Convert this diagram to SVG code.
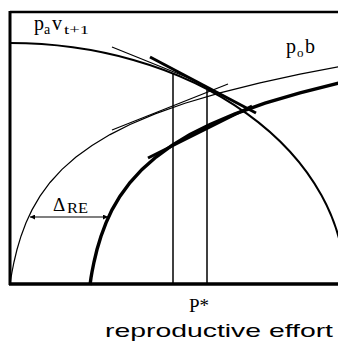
<svg xmlns="http://www.w3.org/2000/svg" width="338" height="347" viewBox="0 0 338 347">
<defs>
<style>
.ax{stroke:#000;stroke-width:3;fill:none}
.thin{stroke:#000;stroke-width:1.2;fill:none}
.med{stroke:#000;stroke-width:2;fill:none}
.thick{stroke:#000;stroke-width:3.4;fill:none}
.vl{stroke:#000;stroke-width:1.5}
.s{font-family:"Liberation Serif","Times New Roman",serif;fill:#000}
.ss{font-family:"Liberation Sans",Arial,sans-serif;fill:#000}
</style>
<marker id="ah" viewBox="0 0 10 10" refX="10" refY="5" markerWidth="8" markerHeight="5" markerUnits="userSpaceOnUse" orient="auto-start-reverse">
<path d="M0,0 L10,5 L0,10 z" fill="#000"/>
</marker>
</defs>
<rect width="338" height="347" fill="#fff"/>
<g id="axes">
<line class="ax" x1="10" y1="12" x2="338" y2="12" style="stroke-width:2.5"/>
<line class="ax" x1="10" y1="11" x2="10" y2="285"/>
<line class="ax" x1="9" y1="284" x2="338" y2="284" style="stroke-width:3.5"/>
</g>
<g id="curve-pav">
<path class="med" d="M10,43 A335,241 0 0 1 345,284"/>
</g>
<g id="curve-pob-thin">
<path class="thin" d="M10,284 L11,277.7 L12,272 L14,262 L17,249.5 L21,236.2 L26,222.8 L32,209.9 L40,196.2 L50,182.5 L62,169.4 L76,157 L92,145.4 L110,134.6 L130,124.5 L155,113.9 L185,103.2 L220,92.8 L260,82.8 L300,74.2 L340,66.6"/>
</g>
<g id="curve-pob-thick">
<path class="thick" d="M90,285 L91,277.7 L92,272 L94,262 L97,249.5 L101,236.2 L106,222.8 L112,209.9 L120,196.2 L130,182.5 L142,169.4 L156,157 L172,145.4 L190,134.6 L210,124.5 L235,113.9 L265,103.2 L300,92.8 L340,82.8"/>
</g>
<g id="connectors">
<line class="thin" x1="112" y1="47" x2="190" y2="78.5"/>
<line class="thick" x1="150" y1="57" x2="256" y2="113" style="stroke-width:3"/>
<line class="thin" x1="112" y1="130" x2="228" y2="84"/>
<line class="thick" x1="148" y1="158" x2="252" y2="106" style="stroke-width:3"/>
<line class="vl" x1="173" y1="73" x2="173" y2="284"/>
<line class="vl" x1="207" y1="90" x2="207" y2="284"/>
<line class="thin" x1="30" y1="217" x2="108" y2="217" marker-start="url(#ah)" marker-end="url(#ah)"/>
</g>
<g id="labels">
<text class="s" x="34" y="30" font-size="20">p</text>
<text class="s" x="44" y="34" font-size="14">a</text>
<text class="s" x="52" y="30" font-size="20">v</text>
<text class="s" x="64" y="34" font-size="12" textLength="25" lengthAdjust="spacingAndGlyphs">t+1</text>
<text class="s" x="286" y="53" font-size="20">p</text>
<text class="s" x="297" y="57" font-size="13">o</text>
<text class="s" x="305" y="53" font-size="20">b</text>
<text class="s" x="53" y="211" font-size="19">Δ</text>
<text class="s" x="67" y="213" font-size="14" textLength="21" lengthAdjust="spacingAndGlyphs">RE</text>
<text class="s" x="189" y="312" font-size="19">P*</text>
<text class="ss" x="105" y="337" font-size="19" textLength="228" lengthAdjust="spacingAndGlyphs">reproductive effort</text>
</g>
</svg>
